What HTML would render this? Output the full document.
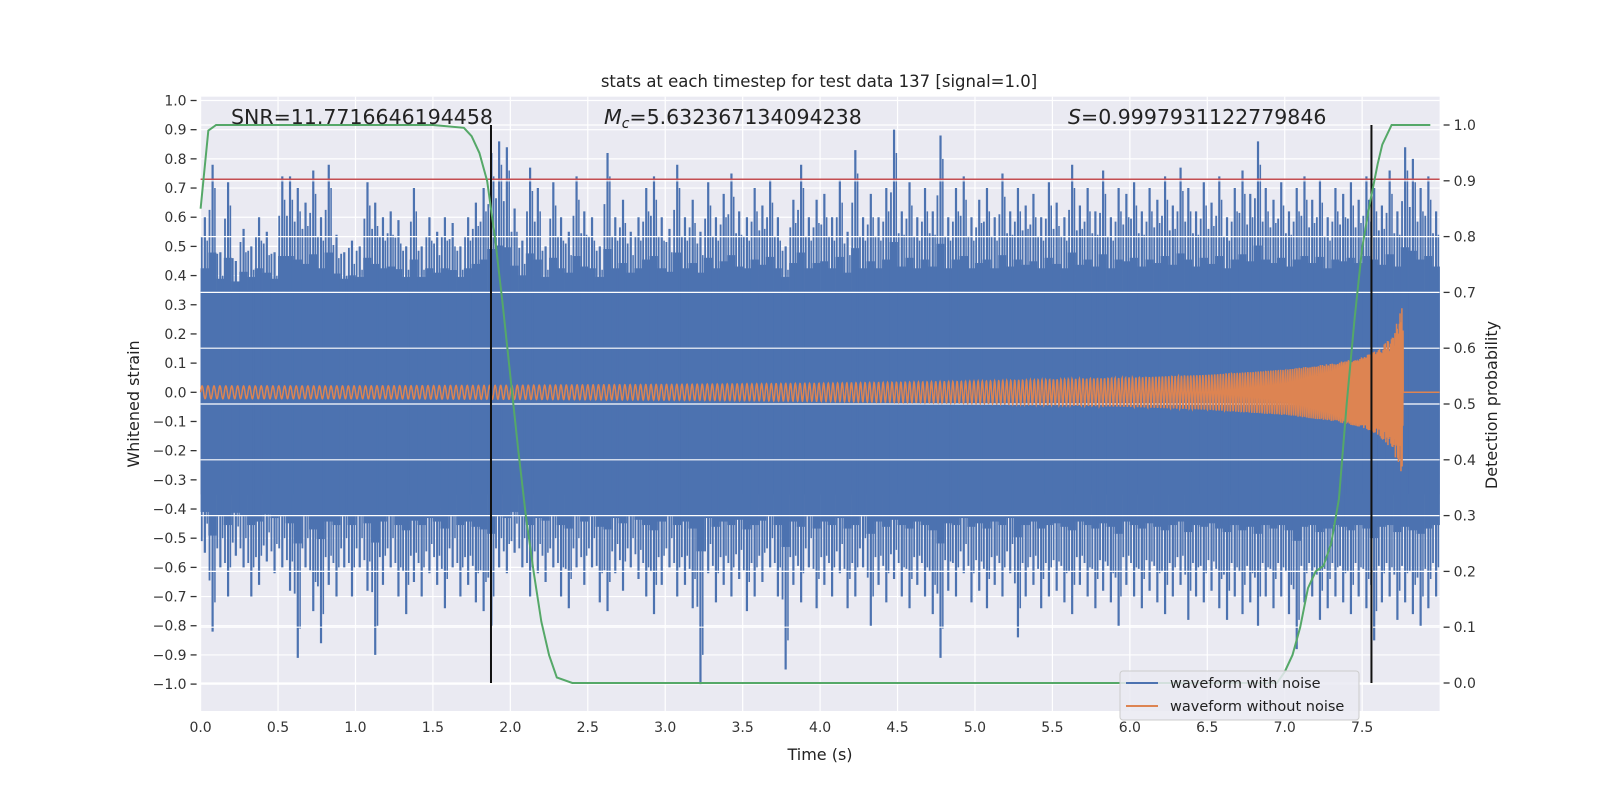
<!DOCTYPE html>
<html><head><meta charset="utf-8"><style>
html,body{margin:0;padding:0;background:#fff;}
svg{display:block;font-family:"DejaVu Sans","Liberation Sans",sans-serif;}
</style></head><body>
<svg id="chart" width="1600" height="800" viewBox="0 0 1600 800" xmlns="http://www.w3.org/2000/svg">
<rect x="200.6" y="96.7" width="1239" height="614.3" fill="#eaeaf2"/>
<g id="gridL"></g>
<g id="noise"></g>
<g id="gridR"></g>
<path id="chirp" fill="none" stroke="#dd8452" stroke-width="1.5"/>
<line id="thresh" stroke="#c44e52" stroke-width="1.5"/>
<g id="vlines"></g>
<path id="prob" fill="none" stroke="#55a868" stroke-width="2"/>
<g id="ticks"></g>
<text x="819" y="87" font-size="16.5" fill="#222" text-anchor="middle">stats at each timestep for test data 137 [signal=1.0]</text>
<text x="231" y="124" font-size="20.5" fill="#222">SNR=11.7716646194458</text>
<text x="604" y="124" font-size="20.5" fill="#222"><tspan font-style="italic">M</tspan><tspan font-size="14" dy="4" font-style="italic">c</tspan><tspan dy="-4">=5.632367134094238</tspan></text>
<text x="1068" y="124" font-size="20.5" fill="#222"><tspan font-style="italic">S</tspan>=0.9997931122779846</text>
<text x="820" y="760" font-size="16" fill="#222" text-anchor="middle">Time (s)</text>
<text transform="translate(139,404) rotate(-90)" font-size="16" fill="#222" text-anchor="middle">Whitened strain</text>
<text transform="translate(1497,405) rotate(-90)" font-size="16" fill="#222" text-anchor="middle">Detection probability</text>
<g>
<rect x="1120" y="671" width="239" height="49" rx="3" fill="#eaeaf2" fill-opacity="0.85" stroke="#cccccc"/>
<line x1="1126" y1="683" x2="1158" y2="683" stroke="#4c72b0" stroke-width="2"/>
<text x="1170" y="688" font-size="14.5" fill="#222">waveform with noise</text>
<line x1="1126" y1="706" x2="1158" y2="706" stroke="#dd8452" stroke-width="2"/>
<text x="1170" y="711" font-size="14.5" fill="#222">waveform without noise</text>
</g>
</svg>
<script>
const binTimes = [];
const noiseHi = [0.6,0.78,0.48,0.72,0.45,0.56,0.5,0.6,0.55,0.48,0.74,0.74,0.7,0.65,0.76,0.6,0.78,0.54,0.48,0.52,
0.5,0.72,0.65,0.6,0.62,0.59,0.5,0.7,0.5,0.6,0.55,0.6,0.58,0.5,0.6,0.65,0.7,0.82,0.86,0.84,
0.63,0.52,0.77,0.7,0.5,0.72,0.6,0.55,0.74,0.62,0.6,0.5,0.82,0.6,0.66,0.55,0.6,0.7,0.74,0.6,
0.56,0.78,0.6,0.66,0.55,0.72,0.6,0.68,0.75,0.62,0.6,0.7,0.64,0.73,0.6,0.5,0.66,0.78,0.6,0.66,
0.68,0.6,0.73,0.55,0.83,0.6,0.68,0.6,0.7,0.9,0.62,0.72,0.6,0.7,0.62,0.88,0.6,0.7,0.74,0.6,
0.66,0.7,0.6,0.75,0.62,0.7,0.64,0.68,0.6,0.72,0.65,0.6,0.78,0.64,0.7,0.62,0.76,0.6,0.7,0.68,
0.72,0.62,0.7,0.66,0.74,0.64,0.77,0.7,0.62,0.72,0.65,0.74,0.6,0.7,0.76,0.68,0.86,0.7,0.66,0.72,
0.62,0.7,0.74,0.66,0.73,0.6,0.7,0.68,0.72,0.66,0.74,0.7,0.64,0.76,0.62,0.84,0.8,0.7,0.74,0.62];
const noiseLo = [-0.55,-0.82,-0.6,-0.7,-0.56,-0.6,-0.7,-0.66,-0.58,-0.62,-0.6,-0.68,-0.91,-0.6,-0.75,-0.86,-0.66,-0.7,-0.6,-0.7,
-0.6,-0.68,-0.9,-0.66,-0.6,-0.7,-0.76,-0.65,-0.7,-0.62,-0.66,-0.74,-0.6,-0.7,-0.66,-0.72,-0.75,-0.8,-0.6,-0.62,
-0.55,-0.6,-0.7,-0.62,-0.65,-0.6,-0.7,-0.74,-0.6,-0.66,-0.6,-0.72,-0.75,-0.62,-0.68,-0.6,-0.64,-0.7,-0.76,-0.66,
-0.6,-0.7,-0.66,-0.74,-1.0,-0.62,-0.72,-0.66,-0.7,-0.64,-0.75,-0.7,-0.65,-0.6,-0.7,-0.95,-0.66,-0.72,-0.6,-0.74,
-0.66,-0.7,-0.62,-0.74,-0.7,-0.6,-0.8,-0.66,-0.72,-0.64,-0.7,-0.74,-0.66,-0.7,-0.76,-0.91,-0.68,-0.7,-0.62,-0.72,
-0.68,-0.74,-0.66,-0.7,-0.62,-0.84,-0.7,-0.66,-0.74,-0.7,-0.68,-0.72,-0.76,-0.66,-0.7,-0.74,-0.68,-0.72,-0.8,-0.66,
-0.7,-0.74,-0.68,-0.72,-0.76,-0.7,-0.66,-0.78,-0.7,-0.72,-0.68,-0.74,-0.78,-0.7,-0.76,-0.72,-0.8,-0.7,-0.74,-0.7,
-0.76,-0.88,-0.72,-0.7,-0.78,-0.74,-0.7,-0.72,-0.76,-0.7,-0.74,-0.85,-0.72,-0.7,-0.78,-0.72,-0.76,-0.8,-0.74,-0.7];
const coreLevel = 0.35;
const envTimes = [0,1,2,3,4,5,6,6.5,7,7.3,7.5,7.6,7.7,7.75,7.765];
const envAmp = [0.022,0.022,0.024,0.027,0.031,0.038,0.05,0.06,0.078,0.098,0.12,0.145,0.2,0.28,0.3];
const freqTimes = [0,1,2,3,4,5,6,6.5,7,7.3,7.5,7.6,7.7,7.75,7.765];
const freqHz = [26,27,28,30,33,37,45,52,65,80,100,120,170,250,300];
const chirpEnd = 7.765;
const probTimes = [0,0.05,0.1,1.5,1.7,1.75,1.8,1.85,1.9,1.95,2.0,2.05,2.1,2.15,2.2,2.25,2.3,2.4,6.95,7.0,7.05,7.1,7.15,7.2,7.25,7.3,7.35,7.4,7.45,7.5,7.55,7.6,7.63,7.69,7.94];
const probVals = [0.85,0.99,1.0,1.0,0.995,0.98,0.95,0.9,0.8,0.68,0.55,0.42,0.3,0.2,0.11,0.05,0.01,0.0,0.0,0.02,0.05,0.1,0.17,0.2,0.21,0.25,0.33,0.5,0.65,0.78,0.86,0.93,0.965,1.0,1.0];
const thresholdValue = 0.73;
const markerTimes = [1.875,7.56];
const xTicks = [0,0.5,1,1.5,2,2.5,3,3.5,4,4.5,5,5.5,6,6.5,7,7.5];
const yTicksL = [-1,-0.9,-0.8,-0.7,-0.6,-0.5,-0.4,-0.3,-0.2,-0.1,0,0.1,0.2,0.3,0.4,0.5,0.6,0.7,0.8,0.9,1.0];
const yTicksR = [0,0.1,0.2,0.3,0.4,0.5,0.6,0.7,0.8,0.9,1.0];
for (let i = 0; i < noiseHi.length; i++) binTimes.push(i * 0.05);

const X0=200.6, X1=1439.6, Y0=96.7, Y1=711;
const xS = t => X0 + (t/8)*(X1-X0);
const yL = v => 392.3 - v*291.8;
const yR = p => 683 - p*558;
const NS='http://www.w3.org/2000/svg';
function mk(tag, parent){const e=document.createElementNS(NS,tag);parent.appendChild(e);return e;}
function interp(ts, vs, t){ if(t<=ts[0])return vs[0]; for(let i=1;i<ts.length;i++){ if(t<=ts[i]){const f=(t-ts[i-1])/(ts[i]-ts[i-1]);return vs[i-1]+f*(vs[i]-vs[i-1]);}} return vs[vs.length-1]; }

const gL=document.getElementById('gridL'), gR=document.getElementById('gridR'), tk=document.getElementById('ticks');
xTicks.forEach(t=>{
  const l=mk('line',gL); l.setAttribute('x1',xS(t));l.setAttribute('x2',xS(t));l.setAttribute('y1',Y0);l.setAttribute('y2',Y1);l.setAttribute('stroke','#fff');l.setAttribute('stroke-width','1.2');
  
  
  const s=mk('text',tk); s.textContent=t.toFixed(1); s.setAttribute('x',xS(t)); s.setAttribute('y',Y1+21); s.setAttribute('font-size','14'); s.setAttribute('fill','#333'); s.setAttribute('text-anchor','middle');
  
  
});
yTicksL.forEach(v=>{
  const y=yL(v);
  const l=mk('line',gL); l.setAttribute('x1',X0);l.setAttribute('x2',X1);l.setAttribute('y1',y);l.setAttribute('y2',y);l.setAttribute('stroke','#fff');l.setAttribute('stroke-width','1.2');
  
  
  const m=mk('line',tk); m.setAttribute('x1',X0-10);m.setAttribute('x2',X0-4);m.setAttribute('y1',y);m.setAttribute('y2',y);m.setAttribute('stroke','#333');m.setAttribute('stroke-width','1.3');
  
  
  const s=mk('text',tk); s.textContent=(v<0?'\u2212':'')+Math.abs(v).toFixed(1); s.setAttribute('x',X0-14); s.setAttribute('y',y+5); s.setAttribute('font-size','14'); s.setAttribute('fill','#333'); s.setAttribute('text-anchor','end');
  
  
});
yTicksR.forEach(p=>{
  const y=yR(p);
  const l=mk('line',gR); l.setAttribute('x1',X0);l.setAttribute('x2',X1);l.setAttribute('y1',y);l.setAttribute('y2',y);l.setAttribute('stroke','#fff');l.setAttribute('stroke-width','1.2');
  
  
  const m=mk('line',tk); m.setAttribute('x1',X1+4);m.setAttribute('x2',X1+10);m.setAttribute('y1',y);m.setAttribute('y2',y);m.setAttribute('stroke','#333');m.setAttribute('stroke-width','1.3');
  
  
  const s=mk('text',tk); s.textContent=p.toFixed(1); s.setAttribute('x',X1+14); s.setAttribute('y',y+5); s.setAttribute('font-size','14'); s.setAttribute('fill','#333');
  
  
});

// noise
const nz=document.getElementById('noise');
const core=mk('rect',nz); core.setAttribute('x',X0); core.setAttribute('width',X1-X0); core.setAttribute('y',yL(coreLevel)); core.setAttribute('height',yL(-coreLevel)-yL(coreLevel)); core.setAttribute('fill','#4c72b0');


const bw=xS(0.05)-xS(0);
binTimes.forEach((t,i)=>{
  const h=noiseHi[i], lo=noiseLo[i];
  const r=mk('rect',nz);
  const mh=coreLevel+(h-coreLevel)*0.3, ml=-coreLevel+(lo+coreLevel)*0.3;
  r.setAttribute('x',xS(t)); r.setAttribute('width',bw+0.3); r.setAttribute('y',yL(mh)); r.setAttribute('height',yL(ml)-yL(mh)); r.setAttribute('fill','#4c72b0');
  
  
  const sp=mk('line',nz);
  const xc=xS(t)+bw*0.55;
  sp.setAttribute('x1',xc); sp.setAttribute('x2',xc); sp.setAttribute('y1',yL(h)); sp.setAttribute('y2',yL(lo)); sp.setAttribute('stroke','#4c72b0'); sp.setAttribute('stroke-width','2.2');
  
  
  const sp2=mk('line',nz);
  const x2=xS(t)+bw*0.15;
  sp2.setAttribute('x1',x2); sp2.setAttribute('x2',x2); sp2.setAttribute('y1',yL((h+coreLevel)/2+0.06)); sp2.setAttribute('y2',yL((lo-coreLevel)/2-0.06)); sp2.setAttribute('stroke','#4c72b0'); sp2.setAttribute('stroke-width','1.8');
  
  
  const sp3=mk('line',nz);
  const x3=xS(t)+bw*0.85;
  sp3.setAttribute('x1',x3); sp3.setAttribute('x2',x3); sp3.setAttribute('y1',yL(h-0.08)); sp3.setAttribute('y2',yL(lo+0.1)); sp3.setAttribute('stroke','#4c72b0'); sp3.setAttribute('stroke-width','1.5');
  
  
});

// chirp
let d='', ph=0, dt=0.0015;
for(let t=0;t<=chirpEnd;t+=dt){
  const a=interp(envTimes,envAmp,t), f=interp(freqTimes,freqHz,t);
  const v=a*Math.sin(ph); ph+=2*Math.PI*f*dt;
  d+=(d?'L':'M')+xS(t).toFixed(2)+','+yL(v).toFixed(2);
}
d+='L'+xS(chirpEnd).toFixed(2)+','+yL(0)+'L'+xS(8)+','+yL(0);
document.getElementById('chirp').setAttribute('d',d);

// threshold
const th=document.getElementById('thresh');
th.setAttribute('x1',X0);th.setAttribute('x2',X1);th.setAttribute('y1',yL(thresholdValue));th.setAttribute('y2',yL(thresholdValue));

// markers
const vg=document.getElementById('vlines');
markerTimes.forEach(t=>{
  const l=mk('line',vg); l.setAttribute('x1',xS(t));l.setAttribute('x2',xS(t));l.setAttribute('y1',yR(1));l.setAttribute('y2',yR(0));l.setAttribute('stroke','#111');l.setAttribute('stroke-width','2');
  
  
});

// prob
let pd='';
probTimes.forEach((t,i)=>{pd+=(i?'L':'M')+xS(t).toFixed(2)+','+yR(probVals[i]).toFixed(2);});
document.getElementById('prob').setAttribute('d',pd);
</script>
</body></html>
